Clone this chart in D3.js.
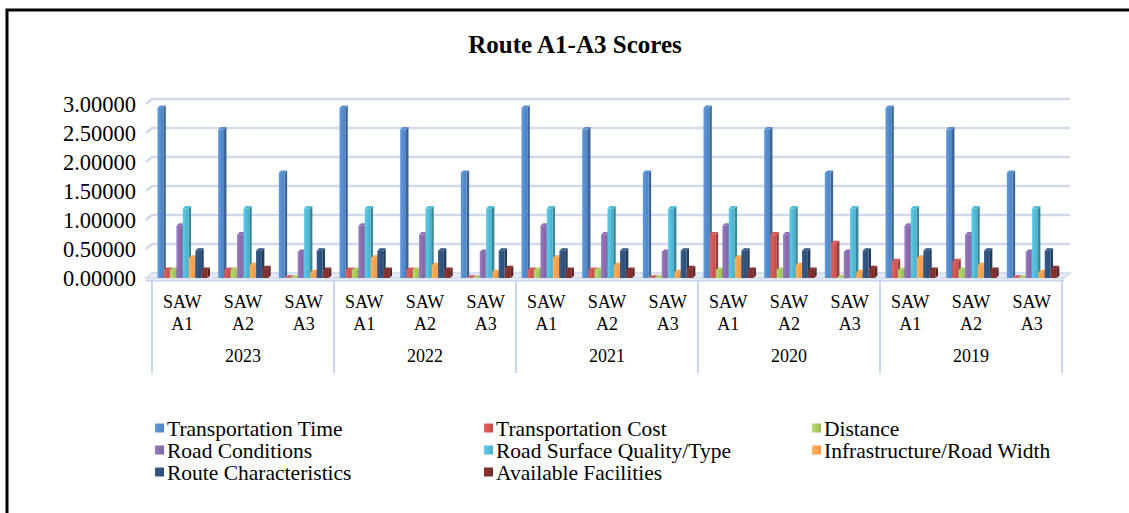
<!DOCTYPE html>
<html>
<head>
<meta charset="utf-8">
<script src="https://cdn.jsdelivr.net/npm/d3@7"></script>
<style>
    body { margin: 0; background: #fff; }
    svg { display: block; }
    text { font-family: "Liberation Serif", "Times New Roman", serif; fill: #000; }
</style>
</head>
<body>
<div id="chart"></div>
<script>
"use strict";

const years = ["2023", "2022", "2021", "2020", "2019"];
const alternatives = ["A1", "A2", "A3"];
const seriesNames = [
    "Transportation Time", "Transportation Cost", "Distance",
    "Road Conditions", "Road Surface Quality/Type", "Infrastructure/Road Width",
    "Route Characteristics", "Available Facilities"
];
const seriesColors = ["#4F81BD", "#C0504D", "#9BBB59", "#8064A2", "#4BACC6", "#F79646", "#2C4D75", "#772C2A"];

// values in order 2023 A1..A3, 2022 A1..A3, ... 2019 A1..A3
const transportationTime = [2.93, 2.56, 1.81, 2.93, 2.56, 1.81, 2.93, 2.56, 1.81, 2.93, 2.56, 1.81, 2.93, 2.56, 1.81];
const transportationCost = [0.14, 0.14, 0.005, 0.14, 0.14, 0.005, 0.14, 0.14, 0.005, 0.75, 0.75, 0.60, 0.29, 0.29, 0.005];
const distance = [0.14, 0.14, 0.005, 0.14, 0.14, 0.005, 0.14, 0.14, 0.005, 0.14, 0.14, 0.005, 0.14, 0.14, 0.005];
const roadConditions = [0.90, 0.75, 0.45, 0.90, 0.75, 0.45, 0.90, 0.75, 0.45, 0.90, 0.75, 0.45, 0.90, 0.75, 0.45];
const roadSurface = [1.20, 1.20, 1.20, 1.20, 1.20, 1.20, 1.20, 1.20, 1.20, 1.20, 1.20, 1.20, 1.20, 1.20, 1.20];
const infrastructure = [0.35, 0.22, 0.10, 0.35, 0.22, 0.10, 0.35, 0.22, 0.10, 0.35, 0.22, 0.10, 0.35, 0.22, 0.10];
const routeCharacteristics = [0.47, 0.47, 0.47, 0.47, 0.47, 0.47, 0.47, 0.47, 0.47, 0.47, 0.47, 0.47, 0.47, 0.47, 0.47];
const availableFacilities = [0.14, 0.17, 0.14, 0.14, 0.14, 0.17, 0.14, 0.14, 0.17, 0.14, 0.14, 0.17, 0.14, 0.14, 0.17];

const seriesValues = [transportationTime, transportationCost, distance, roadConditions,
    roadSurface, infrastructure, routeCharacteristics, availableFacilities];
const yTicks = [0, 0.5, 1, 1.5, 2, 2.5, 3];

const W = 1129, H = 513;
const DX = 6, DY = -5;      // back wall offset
const BD = 2.5;             // bar depth
const GRID = "#CFD9EA";

const svg = d3.select("#chart").append("svg").attr("width", W).attr("height", H);
const defs = svg.append("defs");

// frame
svg.append("path").attr("d", "M7," + H + " V10 H" + W)
    .attr("fill", "none").attr("stroke", "#000").attr("stroke-width", 3);

svg.append("text").attr("x", 575).attr("y", 53).attr("text-anchor", "middle")
    .style("font-size", "25px").style("font-weight", "bold").text("Route A1-A3 Scores");

const cats = [];
years.forEach(function (yr) {
    alternatives.forEach(function (a) { cats.push(yr + "|" + a); });
});

const x0 = d3.scaleBand().domain(cats).range([152, 1062]);
const x1 = d3.scaleBand().domain(seriesNames).range([5.5, 56]);
const y = d3.scaleLinear().domain([0, 3]).range([278, 104]);

// floor
const y0 = y(0);
svg.append("path")
    .attr("d", "M146," + y0 + " L1064," + y0 + " L1070," + (y0 + DY) + " L" + (146 + DX) + "," + (y0 + DY) + "Z")
    .attr("fill", "#E6ECF5").attr("stroke", GRID).attr("stroke-width", 1.5);

// gridlines on back wall
const grid = svg.append("g");
yTicks.slice(1).forEach(function (t) {
    grid.append("path")
        .attr("d", "M146," + y(t) + " L" + (146 + DX) + "," + (y(t) + DY) + " H1070")
        .attr("fill", "none").attr("stroke", GRID).attr("stroke-width", 2.5);
});

// y labels
svg.append("g").selectAll("text").data(yTicks).enter().append("text")
    .attr("x", 136).attr("y", function (d) { return y(d); }).attr("dy", "0.35em")
    .attr("text-anchor", "end").style("font-size", "22.5px")
    .text(function (d) { return d3.format(".5f")(d); });

// gradients
seriesColors.forEach(function (c, i) {
    const g = defs.append("linearGradient").attr("id", "grad" + i)
        .attr("x1", "0").attr("x2", "1").attr("y1", "0").attr("y2", "0");
    g.append("stop").attr("offset", "0").attr("stop-color", d3.color(c).brighter(0.5));
    g.append("stop").attr("offset", "1").attr("stop-color", c);
});

// bars
const bars = svg.append("g");
cats.forEach(function (cat, ci) {
    seriesNames.forEach(function (s, si) {
        const v = seriesValues[si][ci];
        const x = x0(cat) + x1(s);
        const w = x1.bandwidth() * 0.92;
        const top = y(v);
        const c = seriesColors[si];
        const g = bars.append("g");
        g.append("path")
            .attr("d", "M" + (x + w) + "," + top + " L" + (x + w + BD) + "," + (top - BD) +
                " L" + (x + w + BD) + "," + (y0 - BD) + " L" + (x + w) + "," + y0 + "Z")
            .attr("fill", d3.color(c).darker(0.7));
        g.append("path")
            .attr("d", "M" + x + "," + top + " L" + (x + BD) + "," + (top - BD) +
                " L" + (x + w + BD) + "," + (top - BD) + " L" + (x + w) + "," + top + "Z")
            .attr("fill", d3.color(c).brighter(0.3));
        g.append("rect").attr("x", x).attr("y", top).attr("width", w).attr("height", y0 - top)
            .attr("fill", "url(#grad" + si + ")");
    });
});

// category axis
const axis = svg.append("g");
axis.append("line").attr("x1", 146).attr("x2", 1064).attr("y1", 280.5).attr("y2", 280.5)
    .attr("stroke", "#C6D6EC").attr("stroke-width", 2);
const bounds = [];
years.forEach(function (yr) { bounds.push(x0(yr + "|A1")); });
bounds.push(x0.range()[1]);
axis.selectAll("line.sep").data(bounds).enter().append("line").attr("class", "sep")
    .attr("x1", function (d) { return d; }).attr("x2", function (d) { return d; })
    .attr("y1", 280).attr("y2", 373).attr("stroke", "#C6D6EC").attr("stroke-width", 2);

cats.forEach(function (cat) {
    const cx = x0(cat) + x0.bandwidth() / 2;
    const a = cat.split("|")[1];
    axis.append("text").attr("x", cx).attr("y", 308).attr("text-anchor", "middle")
        .style("font-size", "18px").text("SAW");
    axis.append("text").attr("x", cx).attr("y", 330).attr("text-anchor", "middle")
        .style("font-size", "18px").text(a);
});
years.forEach(function (yr) {
    const cx = x0(yr + "|A2") + x0.bandwidth() / 2;
    axis.append("text").attr("x", cx).attr("y", 362).attr("text-anchor", "middle")
        .style("font-size", "18px").text(yr);
});

// legend
const legX = [155, 484, 812];
const legY = [428, 450, 472];
const legend = svg.append("g");
seriesNames.forEach(function (s, i) {
    const lx = legX[i % 3], ly = legY[Math.floor(i / 3)];
    legend.append("rect").attr("x", lx).attr("y", ly - 4.5).attr("width", 9).attr("height", 9)
        .attr("fill", "url(#grad" + i + ")");
    legend.append("text").attr("x", lx + 12).attr("y", ly).attr("dy", "0.35em")
        .style("font-size", "21.5px").text(s);
});
</script>
</body>
</html>
